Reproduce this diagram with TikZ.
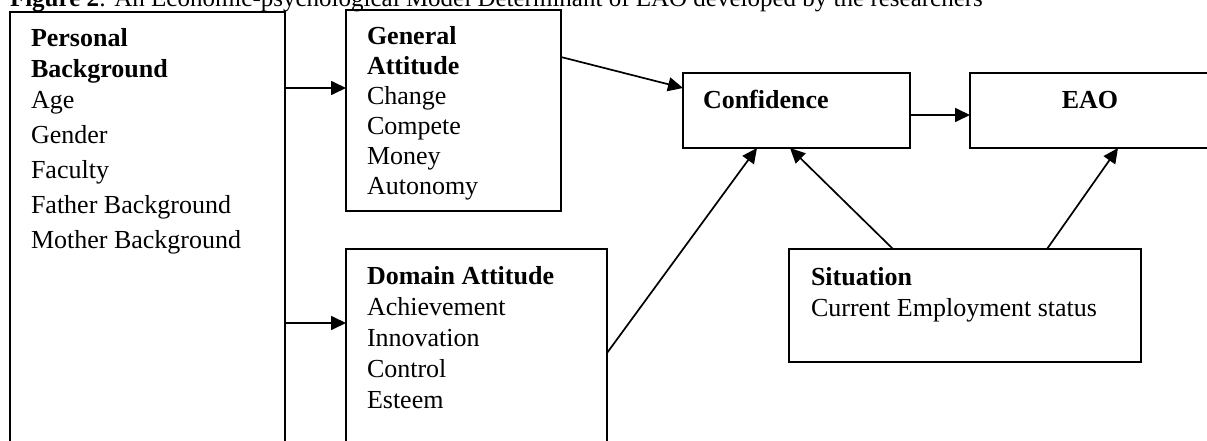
\documentclass[tikz,border=0pt]{standalone}
\usepackage{fontspec}
\setmainfont{Liberation Serif}
\usetikzlibrary{arrows.meta}
\newcommand{\boxlines}[1]{\begin{tabular}[t]{@{}l@{}}#1\end{tabular}}
\begin{document}
\begin{tikzpicture}[x=1pt,y=-1pt,
  every node/.style={font=\fontsize{26}{31}\selectfont},
  frame/.style={draw, line width=2pt, anchor=north west, inner sep=0pt, outer sep=0pt},
  txt/.style={anchor=base west, inner sep=0pt, outer sep=0pt},
  arr/.style={line width=1.7pt, -{Triangle[length=15pt,width=14pt]}}]
\useasboundingbox (0,0) rectangle (1207,441);
\fill[white] (0,0) rectangle (1207,441);
\clip (0,0) rectangle (1207,441);
% title
\node[txt, font=\fontsize{25}{30}\selectfont] (title) at (10,7) {\textbf{Figure 2}: An Economic-psychological Model Determinant of EAO developed by the researchers};
% boxes
\node[frame, minimum width=275pt, minimum height=500pt] (P) at (10,12) {};
\node[frame, minimum width=215pt, minimum height=201pt] (G) at (346,10) {};
\node[frame, minimum width=261pt, minimum height=300pt] (D) at (346,249) {};
\node[frame, minimum width=227pt, minimum height=75pt] (C) at (683,73) {};
\node[frame, minimum width=300pt, minimum height=75pt] (E) at (970,73) {};
\node[frame, minimum width=352pt, minimum height=113pt] (S) at (789,249) {};
% texts
\node[txt] (Ptxt) at (31,47) {\boxlines{\textbf{Personal}\\ \textbf{Background}\\ Age\\[4pt] Gender\\[4pt] Faculty\\[4pt] Father Background\\[4pt] Mother Background}};
\node[txt] (Gtxt) at (367,45) {\fontsize{26}{30}\selectfont\boxlines{\textbf{General}\\ \textbf{Attitude}\\ Change\\ Compete\\ Money\\ Autonomy}};
\node[txt] (Dtxt) at (367,284) {\boxlines{\textbf{Domain Attitude}\\ Achievement\\ Innovation\\ Control\\ Esteem}};
\node[txt] (Ctxt) at (703,109) {\textbf{Confidence}};
\node[anchor=base, inner sep=0pt] (Etxt) at (1090,109) {\textbf{EAO}};
\node[txt] (Stxt) at (811,285) {\boxlines{\textbf{Situation}\\ Current Employment status}};
% connectors
\draw[arr] (P.east |- 0,88) -- (G.west |- 0,88);
\draw[arr] (P.east |- 0,323) -- (D.west |- 0,323);
\draw[arr] (G.east |- 0,57) -- (C.west |- 0,88);
\draw[arr] (D.east |- 0,353) -- (757,0 |- C.south);
\draw[arr] (893,0 |- S.north) -- (790,0 |- C.south);
\draw[arr] (1047,0 |- S.north) -- (1118,0 |- E.south);
\draw[arr] (C.east |- 0,115) -- (E.west |- 0,115);
\end{tikzpicture}
\end{document}
